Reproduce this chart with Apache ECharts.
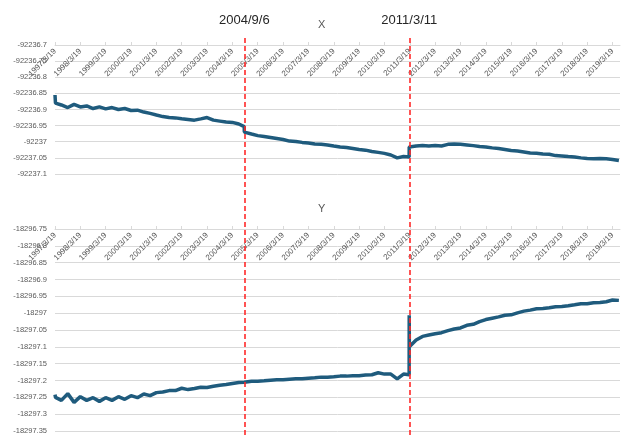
<!DOCTYPE html>
<html>
<head>
<meta charset="utf-8">
<script src="https://cdn.jsdelivr.net/npm/echarts@6/dist/echarts.min.js"></script>
<style>
  html, body { margin: 0; padding: 0; background: #ffffff; }
  #chart { width: 623px; height: 435px; }
</style>
</head>
<body>
<div id="chart"></div>
<script>
// Sample dates (roughly quarterly, with extra samples around the start and the two events)
const dates = [
  '1997-03-19','1997-03-26','1997-06-19','1997-09-19','1997-12-19',
  '1998-03-19','1998-06-19','1998-09-19','1998-12-19',
  '1999-03-19','1999-06-19','1999-09-19','1999-12-19',
  '2000-03-19','2000-06-19','2000-09-19','2000-12-19',
  '2001-03-19','2001-06-19','2001-09-19','2001-12-19',
  '2002-03-19','2002-06-19','2002-09-19','2002-12-19',
  '2003-03-19','2003-06-19','2003-09-19','2003-12-19',
  '2004-03-19','2004-06-19','2004-09-05','2004-09-07','2004-09-19','2004-12-19',
  '2005-03-19','2005-06-19','2005-09-19','2005-12-19',
  '2006-03-19','2006-06-19','2006-09-19','2006-12-19',
  '2007-03-19','2007-06-19','2007-09-19','2007-12-19',
  '2008-03-19','2008-06-19','2008-09-19','2008-12-19',
  '2009-03-19','2009-06-19','2009-09-19','2009-12-19',
  '2010-03-19','2010-06-19','2010-09-19','2010-12-19',
  '2011-03-10','2011-03-11','2011-03-13','2011-03-19','2011-06-19','2011-09-19','2011-12-19',
  '2012-03-19','2012-06-19','2012-09-19','2012-12-19',
  '2013-03-19','2013-06-19','2013-09-19','2013-12-19',
  '2014-03-19','2014-06-19','2014-09-19','2014-12-19',
  '2015-03-19','2015-06-19','2015-09-19','2015-12-19',
  '2016-03-19','2016-06-19','2016-09-19','2016-12-19',
  '2017-03-19','2017-06-19','2017-09-19','2017-12-19',
  '2018-03-19','2018-06-19','2018-09-19','2018-12-19',
  '2019-03-19','2019-06-19'
];

// X component
const xValues = [
  -92236.855,-92236.880,-92236.886,-92236.894,-92236.884,
  -92236.892,-92236.889,-92236.897,-92236.892,
  -92236.898,-92236.894,-92236.900,-92236.897,
  -92236.903,-92236.902,-92236.908,-92236.912,
  -92236.917,-92236.922,-92236.925,-92236.926,
  -92236.929,-92236.931,-92236.933,-92236.929,
  -92236.925,-92236.933,-92236.936,-92236.939,
  -92236.940,-92236.945,-92236.953,-92236.970,-92236.973,-92236.976,
  -92236.981,-92236.984,-92236.987,-92236.990,
  -92236.993,-92236.998,-92236.999,-92237.002,
  -92237.004,-92237.007,-92237.008,-92237.010,
  -92237.013,-92237.016,-92237.018,-92237.021,
  -92237.024,-92237.026,-92237.030,-92237.033,
  -92237.036,-92237.041,-92237.050,-92237.046,
  -92237.047,-92237.016,-92237.015,-92237.015,-92237.013,-92237.012,-92237.013,
  -92237.012,-92237.013,-92237.008,-92237.007,
  -92237.008,-92237.010,-92237.012,-92237.015,
  -92237.016,-92237.019,-92237.021,-92237.024,
  -92237.027,-92237.029,-92237.032,-92237.035,
  -92237.036,-92237.038,-92237.039,-92237.043,
  -92237.044,-92237.046,-92237.047,-92237.050,
  -92237.052,-92237.053,-92237.052,-92237.053,
  -92237.055,-92237.058
];

// Y component
const yValues = [
  -18297.242,-18297.250,-18297.259,-18297.239,-18297.265,
  -18297.248,-18297.259,-18297.251,-18297.262,
  -18297.251,-18297.259,-18297.248,-18297.256,
  -18297.245,-18297.251,-18297.240,-18297.245,
  -18297.236,-18297.234,-18297.230,-18297.230,
  -18297.223,-18297.227,-18297.224,-18297.220,
  -18297.221,-18297.217,-18297.214,-18297.212,
  -18297.209,-18297.206,-18297.205,-18297.205,-18297.203,-18297.202,
  -18297.202,-18297.201,-18297.199,-18297.198,
  -18297.198,-18297.196,-18297.195,-18297.195,
  -18297.193,-18297.192,-18297.190,-18297.190,
  -18297.189,-18297.187,-18297.187,-18297.186,
  -18297.186,-18297.184,-18297.183,-18297.177,
  -18297.181,-18297.181,-18297.195,-18297.181,
  -18297.183,-18297.006,-18297.100,-18297.095,-18297.080,-18297.069,-18297.065,
  -18297.061,-18297.058,-18297.052,-18297.047,
  -18297.044,-18297.036,-18297.033,-18297.025,
  -18297.019,-18297.015,-18297.011,-18297.006,
  -18297.005,-18296.999,-18296.994,-18296.991,
  -18296.987,-18296.986,-18296.984,-18296.981,
  -18296.980,-18296.978,-18296.975,-18296.972,
  -18296.972,-18296.969,-18296.968,-18296.966,
  -18296.961,-18296.962
];

// Yearly tick labels along the time axis
const tickLabels = [
  '1997/3/19','1998/3/19','1999/3/19','2000/3/19','2001/3/19','2002/3/19',
  '2003/3/19','2004/3/19','2005/3/19','2006/3/19','2007/3/19','2008/3/19',
  '2009/3/19','2010/3/19','2011/3/19','2012/3/19','2013/3/19','2014/3/19',
  '2015/3/19','2016/3/19','2017/3/19','2018/3/19','2019/3/19'
];

// Event markers
const eventDates = ['2004-09-06', '2011-03-11'];
const eventLabels = ['2004/9/6', '2011/3/11'];

const startDate = '1997-03-19';
const endDate = '2019-07-05';

function toUTC(s) {
  const p = s.split('-').map(Number);
  return Date.UTC(p[0], p[1] - 1, p[2]);
}
// Axis position: years elapsed since the first tick date
function yearsSince(s) {
  return (toUTC(s) - toUTC(startDate)) / (365.25 * 86400000);
}

const xMax = yearsSince(endDate);
const textColor = '#595959';
const gridColor = '#d9d9d9';
const lineColor = '#1f5b7d';
const fontFamily = '"Liberation Sans", Arial, sans-serif';

function timeAxis(gridIndex) {
  return {
    type: 'value',
    gridIndex: gridIndex,
    position: 'top',
    min: 0,
    max: xMax,
    interval: 1,
    axisLine: { show: true, lineStyle: { color: gridColor, width: 1 } },
    axisTick: { show: true, length: 3, lineStyle: { color: gridColor } },
    splitLine: { show: false },
    axisLabel: {
      inside: true,
      // top axes flip the sign, so this reads lower-left to upper-right
      rotate: -45,
      margin: 5,
      fontSize: 8,
      color: textColor,
      fontFamily: fontFamily,
      showMaxLabel: false,
      formatter: function (v) {
        const k = Math.round(v);
        if (Math.abs(v - k) > 1e-6) return '';
        return tickLabels[k] || '';
      }
    }
  };
}

function valueAxis(gridIndex, min, max) {
  return {
    type: 'value',
    gridIndex: gridIndex,
    min: min,
    max: max,
    interval: 0.05,
    axisLine: { show: false },
    axisTick: { show: false },
    splitLine: { show: true, lineStyle: { color: gridColor, width: 1 } },
    axisLabel: {
      margin: 8,
      fontSize: 7.5,
      color: textColor,
      fontFamily: fontFamily,
      formatter: function (v) { return String(parseFloat(v.toFixed(2))); }
    }
  };
}

const chart = echarts.init(document.getElementById('chart'), null, { renderer: 'canvas' });

chart.setOption({
  animation: false,
  backgroundColor: '#ffffff',
  title: [
    { text: 'X', left: 318, top: 19, padding: 0,
      textStyle: { fontSize: 11, fontWeight: 'normal', color: textColor, fontFamily: fontFamily } },
    { text: 'Y', left: 318, top: 203, padding: 0,
      textStyle: { fontSize: 11, fontWeight: 'normal', color: textColor, fontFamily: fontFamily } }
  ],
  grid: [
    { left: 55, right: 3, top: 45, height: 129 },
    { left: 55, right: 3, top: 229, height: 204 },
    { left: 55, right: 3, top: 36, bottom: 0 }
  ],
  xAxis: [
    timeAxis(0),
    timeAxis(1),
    { type: 'value', gridIndex: 2, min: 0, max: xMax, show: false }
  ],
  yAxis: [
    valueAxis(0, -92237.1, -92236.7),
    valueAxis(1, -18297.35, -18296.75),
    { type: 'value', gridIndex: 2, min: 0, max: 1, show: false }
  ],
  series: [
    {
      name: 'X', type: 'line', xAxisIndex: 0, yAxisIndex: 0,
      showSymbol: false, silent: true,
      lineStyle: { color: lineColor, width: 3.5 },
      data: dates.map((d, i) => [yearsSince(d), xValues[i]])
    },
    {
      name: 'Y', type: 'line', xAxisIndex: 1, yAxisIndex: 1,
      showSymbol: false, silent: true,
      lineStyle: { color: lineColor, width: 3.5 },
      data: dates.map((d, i) => [yearsSince(d), yValues[i]])
    },
    {
      name: 'events', type: 'line', xAxisIndex: 2, yAxisIndex: 2,
      data: [], silent: true,
      markLine: {
        silent: true,
        symbol: ['none', 'none'],
        lineStyle: { color: '#ff2a2a', width: 1.6, type: [5, 3] },
        label: {
          show: true,
          position: 'end',
          distance: 9,
          fontSize: 13,
          color: '#262626',
          fontFamily: fontFamily
        },
        data: eventDates.map((d, i) => ({
          xAxis: yearsSince(d),
          label: { formatter: eventLabels[i] }
        }))
      }
    }
  ]
});
</script>
</body>
</html>
